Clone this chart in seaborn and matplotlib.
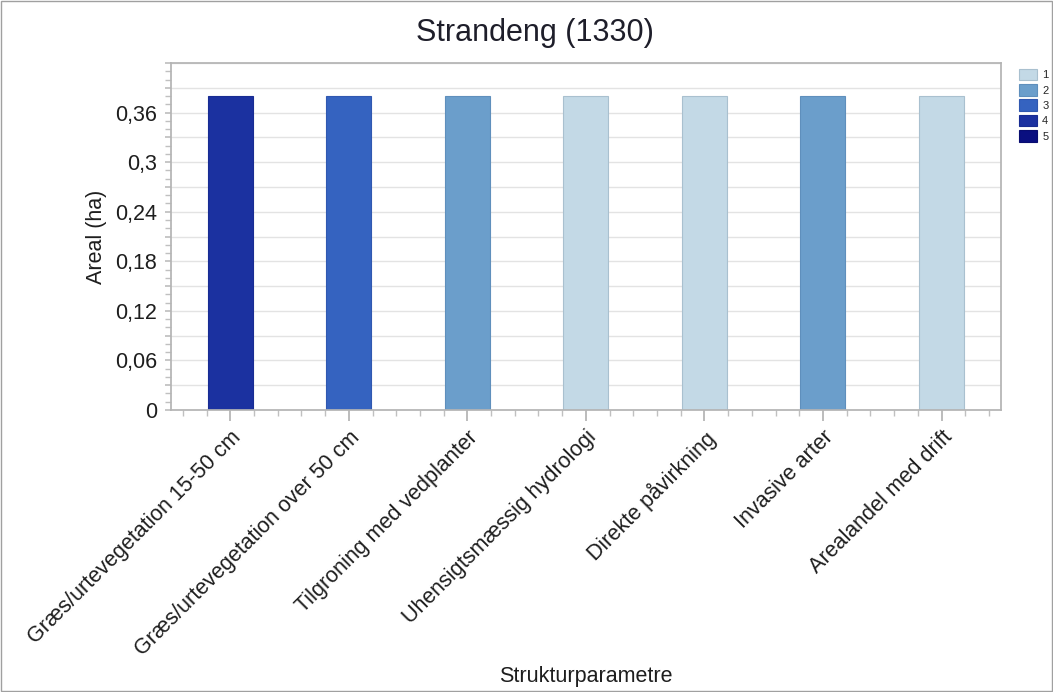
import matplotlib
matplotlib.use("Agg")
import matplotlib.pyplot as plt
import seaborn as sns
import pandas as pd
from matplotlib.patches import Patch
from matplotlib.ticker import MultipleLocator, FuncFormatter

categories = ["Græs/urtevegetation 15-50 cm", "Græs/urtevegetation over 50 cm",
              "Tilgroning med vedplanter", "Uhensigtsmæssig hydrologi",
              "Direkte påvirkning", "Invasive arter", "Arealandel med drift"]
values = [0.38, 0.38, 0.38, 0.38, 0.38, 0.38, 0.38]
levels = ["4", "3", "2", "1", "1", "2", "1"]
legend_levels = ["1", "2", "3", "4", "5"]
level_colors = ["#c3d9e6", "#6b9ecb", "#3563c0", "#1b31a0", "#0a0f80"]
edge_colors = ["#a9c0cf", "#5f8fbc", "#3058b0", "#182c92", "#090d70"]
ytick_labels = ["0", "0,06", "0,12", "0,18", "0,24", "0,3", "0,36"]

sns.set_theme(style="white")
plt.rcParams['font.family'] = ['Liberation Sans', 'DejaVu Sans']

df = pd.DataFrame({"cat": categories, "val": values, "lvl": levels})
palette = dict(zip(legend_levels, level_colors))
edge_map = dict(zip(legend_levels, edge_colors))

fig = plt.figure(figsize=(10.53, 6.92), dpi=100)
ax = fig.add_axes([0.1624, 0.4075, 0.788, 0.5014])

sns.barplot(data=df, x="cat", y="val", hue="lvl", palette=palette, dodge=False,
            width=0.38, ax=ax, legend=False, hue_order=legend_levels, saturation=1)
for cont, lvl in zip(ax.containers, legend_levels):
    for p in cont:
        p.set_edgecolor(edge_map[lvl])
        p.set_linewidth(0.8)

ax.set_xlim(-0.5, 6.5)
ax.set_ylim(0, 0.42)
ax.yaxis.set_major_locator(MultipleLocator(0.03))

def yfmt(v, pos):
    k = int(round(v / 0.03))
    if k % 2 or k // 2 >= len(ytick_labels):
        return ""
    return ytick_labels[k // 2]

ax.yaxis.set_major_formatter(FuncFormatter(yfmt))
ax.yaxis.set_minor_locator(MultipleLocator(0.01))
ax.xaxis.set_minor_locator(MultipleLocator(0.2))
ax.grid(True, axis="y", which="major", color="#e3e3e3", linewidth=1)
ax.set_axisbelow(True)
for s in ax.spines.values():
    s.set_color("#b4b4b4")
ax.tick_params(axis="y", which="major", length=4, color="#c0c0c0", labelsize=15.5,
               left=True, labelcolor="#1e1e1e", pad=6)
ax.tick_params(axis="y", which="minor", length=4, color="#c0c0c0", left=True)
ax.tick_params(axis="x", which="major", length=8, color="#b4b4b4", bottom=True,
               labelsize=15.5, labelcolor="#1e1e1e", pad=4)
ax.tick_params(axis="x", which="minor", length=4, color="#c0c0c0", bottom=True)
ax.set_xticks(range(len(categories)))
ax.set_xticklabels(categories, rotation=45, ha="right", rotation_mode="anchor")
ax.set_xlabel("")
ax.set_ylabel("Areal (ha)", fontsize=15.5, color="#1e1e1e", labelpad=6)

fig.text(0.508, 0.952, "Strandeng (1330)", fontsize=22, ha="center", va="center", color="#1e1e2a")
fig.text(0.556, 0.022, "Strukturparametre", fontsize=15.5, ha="center", va="center", color="#1e1e1e")

handles = [Patch(facecolor=c, edgecolor=e, linewidth=0.8) for c, e in zip(level_colors, edge_colors)]
fig.legend(handles, legend_levels, loc="upper left", bbox_to_anchor=(0.958, 0.915),
           frameon=False, fontsize=8, handlelength=1.6, handleheight=1.2,
           labelspacing=0.35, handletextpad=0.5)

fig.patches.append(plt.Rectangle((0.001, 0.001), 0.998, 0.998, transform=fig.transFigure,
                                 fill=False, edgecolor="#a0a0a0", linewidth=1))
fig.savefig("out.png", dpi=100)
